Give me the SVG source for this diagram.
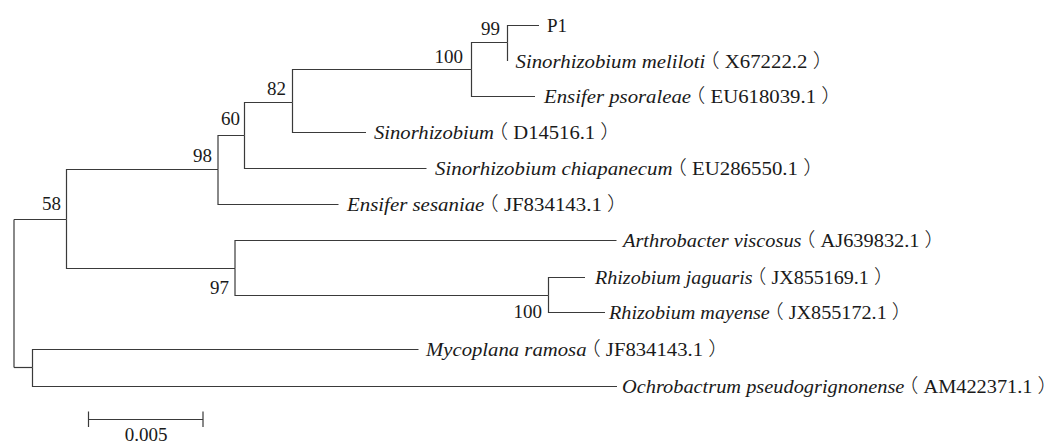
<svg xmlns="http://www.w3.org/2000/svg" width="1059" height="445" viewBox="0 0 1059 445">
<style>
.br{fill:none;stroke:#3a3a3a;stroke-width:1.2}
.lb{font-family:"Liberation Serif","Times New Roman","Noto Sans CJK SC",serif;font-size:19px;fill:#1a1a1a}
.it{font-style:italic}
.pa{font-family:"Noto Sans CJK SC",sans-serif;font-weight:300}
.bs{font-family:"Liberation Serif","Times New Roman",serif;font-size:19px;fill:#1a1a1a;text-anchor:end}
</style>
<rect width="1059" height="445" fill="#ffffff"/>
<g id="connectors">
<path class="br" d="M14 219.5 V367.5"/>
<path class="br" d="M14 219.5 H66.5"/>
<path class="br" d="M14 367.5 H32.5"/>
<path class="br" d="M66.5 219.5 V169.5 H218"/>
<path class="br" d="M66.5 219.5 V268.5 H235"/>
<path class="br" d="M218 169.5 V135.5 H244.5"/>
<path class="br" d="M218 169.5 V204.5 H338.5"/>
<path class="br" d="M244.5 135.5 V102.5 H292.5"/>
<path class="br" d="M244.5 135.5 V168.5 H426.5"/>
<path class="br" d="M292.5 102.5 V69.5 H471.5"/>
<path class="br" d="M292.5 102.5 V132.5 H366"/>
<path class="br" d="M471.5 69.5 V42.5 H507.5"/>
<path class="br" d="M471.5 69.5 V96.5 H535"/>
<path class="br" d="M507.5 42.5 V25.5 H539"/>
<path class="br" d="M507.5 42.5 V61"/>
<path class="br" d="M235 268.5 V240.5 H616.5"/>
<path class="br" d="M235 268.5 V295.5 H548.5"/>
<path class="br" d="M548.5 295.5 V277.5 H585"/>
<path class="br" d="M548.5 295.5 V312.5 H605"/>
<path class="br" d="M32.5 367.5 V349.5 H418.5"/>
<path class="br" d="M32.5 367.5 V386.5 H617"/>
</g>
<g id="node-58"><text class="bs" x="61" y="210">58</text></g>
<g id="node-98"><text class="bs" x="212" y="161.5">98</text></g>
<g id="node-60"><text class="bs" x="240" y="125">60</text></g>
<g id="node-82"><text class="bs" x="286" y="94.5">82</text></g>
<g id="node-100a"><text class="bs" x="463" y="62.5">100</text></g>
<g id="node-99"><text class="bs" x="500" y="34.5">99</text></g>
<g id="node-97"><text class="bs" x="229" y="294">97</text></g>
<g id="node-100b"><text class="bs" x="542" y="317.5">100</text></g>
<g id="leaf-p1"><text class="lb" x="547" y="32">P1</text></g>
<g id="leaf-meliloti"><text class="lb" x="515.5" y="67.5" textLength="318" lengthAdjust="spacingAndGlyphs"><tspan class="it">Sinorhizobium meliloti</tspan><tspan class="pa" dx="-6">（</tspan> X67222.2 <tspan class="pa">）</tspan></text></g>
<g id="leaf-psoraleae"><text class="lb" x="544" y="103" textLength="298" lengthAdjust="spacingAndGlyphs"><tspan class="it">Ensifer psoraleae</tspan><tspan class="pa" dx="-6">（</tspan> EU618039.1 <tspan class="pa">）</tspan></text></g>
<g id="leaf-d14516"><text class="lb" x="374" y="139" textLength="247" lengthAdjust="spacingAndGlyphs"><tspan class="it">Sinorhizobium</tspan><tspan class="pa" dx="-6">（</tspan> D14516.1 <tspan class="pa">）</tspan></text></g>
<g id="leaf-chiapanecum"><text class="lb" x="435" y="175" textLength="389" lengthAdjust="spacingAndGlyphs"><tspan class="it">Sinorhizobium chiapanecum</tspan><tspan class="pa" dx="-6">（</tspan> EU286550.1 <tspan class="pa">）</tspan></text></g>
<g id="leaf-sesaniae"><text class="lb" x="347" y="211" textLength="281" lengthAdjust="spacingAndGlyphs"><tspan class="it">Ensifer sesaniae</tspan><tspan class="pa" dx="-6">（</tspan> JF834143.1 <tspan class="pa">）</tspan></text></g>
<g id="leaf-arthrobacter"><text class="lb" x="623" y="247" textLength="322" lengthAdjust="spacingAndGlyphs"><tspan class="it">Arthrobacter viscosus</tspan><tspan class="pa" dx="-6">（</tspan> AJ639832.1 <tspan class="pa">）</tspan></text></g>
<g id="leaf-jaguaris"><text class="lb" x="595" y="284" textLength="299" lengthAdjust="spacingAndGlyphs"><tspan class="it">Rhizobium jaguaris</tspan><tspan class="pa" dx="-6">（</tspan> JX855169.1 <tspan class="pa">）</tspan></text></g>
<g id="leaf-mayense"><text class="lb" x="609" y="319" textLength="303" lengthAdjust="spacingAndGlyphs"><tspan class="it">Rhizobium mayense</tspan><tspan class="pa" dx="-6">（</tspan> JX855172.1 <tspan class="pa">）</tspan></text></g>
<g id="leaf-mycoplana"><text class="lb" x="426" y="356" textLength="303" lengthAdjust="spacingAndGlyphs"><tspan class="it">Mycoplana ramosa</tspan><tspan class="pa" dx="-6">（</tspan> JF834143.1 <tspan class="pa">）</tspan></text></g>
<g id="leaf-ochrobactrum"><text class="lb" x="622" y="393" textLength="436" lengthAdjust="spacingAndGlyphs"><tspan class="it">Ochrobactrum pseudogrignonense</tspan><tspan class="pa" dx="-6">（</tspan> AM422371.1 <tspan class="pa">）</tspan></text></g>
<g id="scale-bar">
<path class="br" d="M88.5 419.5 H203 M88.5 411.5 V427 M203 411.5 V427"/>
<text class="lb" x="146" y="441" text-anchor="middle">0.005</text>
</g>
</svg>
